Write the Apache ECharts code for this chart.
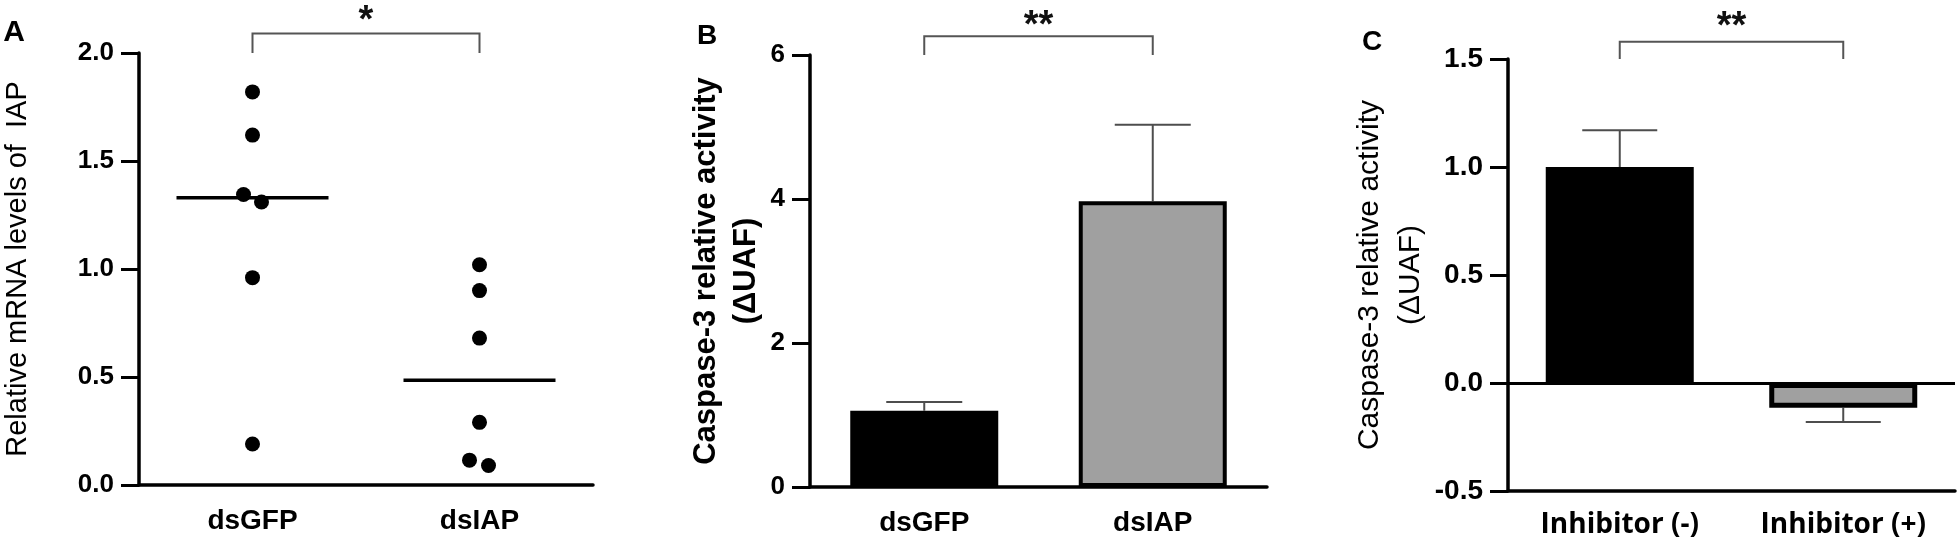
<!DOCTYPE html>
<html><head><meta charset="utf-8">
<script src="https://cdn.jsdelivr.net/npm/echarts@6/dist/echarts.min.js"></script>
<style>html,body{margin:0;padding:0;background:#fff}#c{width:1958px;height:546px}</style>
</head><body><div id="c"></div>
<script>
// ---------- data ----------
const catA = ['dsGFP', 'dsIAP'];
const gfpPoints = [1.82, 1.62, 1.345, 1.31, 0.96, 0.19];
const iapPoints = [1.02, 0.90, 0.68, 0.29, 0.115, 0.09];
const medianA = [1.33, 0.485];
const yTicksA = [0, 0.5, 1.0, 1.5, 2.0];

const catB = ['dsGFP', 'dsIAP'];
const meanB = [1.06, 3.97];
const errB = [0.12, 1.06];
const yTicksB = [0, 2, 4, 6];

const catC = ['Inhibitor (-)', 'Inhibitor (+)'];
const meanC = [1.0, -0.115];
const errC = [0.17, 0.065];
const yTicksC = [-0.5, 0.0, 0.5, 1.0, 1.5];

const sigLabels = ['*', '**', '**'];
const sigTop = [2.09, 6.26, 1.58];
const sigBase = [2.0, 6.0, 1.5];

// ---------- styles (not data) ----------
const jitterGfp = [0, 0, -9, 9, 0, 0];
const jitterIap = [0, 0, 0, 0, -10, 9];
const FONT = '"Liberation Sans", Arial, sans-serif';
const ERR_COLOR = '#4d4d4d';

const chart = echarts.init(document.getElementById('c'), null, {renderer: 'canvas'});

function xAxisCfg(grid, cats, labelFont, labelSize, margin) {
  return {
    type: 'category', gridIndex: grid, data: cats,
    axisLine: {onZero: false, lineStyle: {color: '#000', width: 3.5}},
    axisTick: {alignWithLabel: true, length: 17, lineStyle: {color: '#000', width: 3}},
    axisLabel: {margin: margin, fontSize: labelSize, fontWeight: 'bold', color: '#000', fontFamily: labelFont},
    splitLine: {show: false}
  };
}
function yAxisCfg(grid, ticks, fmt, labelSize, name, nameSize, nameWeight, nameGap, nameLH) {
  return {
    type: 'value', gridIndex: grid,
    min: ticks[0], max: ticks[ticks.length - 1], interval: ticks[1] - ticks[0],
    axisLine: {show: true, lineStyle: {color: '#000', width: 3.5}},
    axisTick: {show: true, length: 18, lineStyle: {color: '#000', width: 3}},
    axisLabel: {margin: 25, fontSize: labelSize, fontWeight: 'bold', color: '#000', fontFamily: FONT, formatter: fmt},
    splitLine: {show: false},
    name: name, nameLocation: 'middle', nameGap: nameGap,
    nameTextStyle: {fontSize: nameSize, fontWeight: nameWeight, color: '#000', fontFamily: FONT, lineHeight: nameLH}
  };
}

function errRender(capW) {
  return function (params, api) {
    const x = api.value(0), m = api.value(1), e = api.value(2);
    const end = m >= 0 ? m + e : m - e;
    const p0 = api.coord([x, m]);
    const p1 = api.coord([x, end]);
    return {type: 'group', children: [
      {type: 'line', shape: {x1: p0[0], y1: p0[1], x2: p1[0], y2: p1[1]}, style: {stroke: ERR_COLOR, lineWidth: 2}},
      {type: 'line', shape: {x1: p1[0] - capW / 2, y1: p1[1], x2: p1[0] + capW / 2, y2: p1[1]}, style: {stroke: ERR_COLOR, lineWidth: 2}}
    ]};
  };
}

function bracketRender(label, lift) {
  return function (params, api) {
    const top = api.value(1), base = api.value(2);
    const a = api.coord([0, top]), b = api.coord([1, top]);
    const a0 = api.coord([0, base]), b0 = api.coord([1, base]);
    return {type: 'group', children: [
      {type: 'polyline', shape: {points: [[a0[0], a0[1]], [a[0], a[1]], [b[0], b[1]], [b0[0], b0[1]]]},
        style: {stroke: '#555', lineWidth: 2, fill: null}},
      {type: 'text', x: (a[0] + b[0]) / 2, y: a[1] - lift,
        style: {text: label, font: 'bold 38px ' + FONT, textAlign: 'center', textVerticalAlign: 'middle', fill: '#111'}}
    ]};
  };
}

const option = {
  animation: false,
  backgroundColor: '#fff',
  grid: [
    {left: 134, top: 53, width: 459, height: 432},
    {left: 810, top: 55, width: 457, height: 432},
    {left: 1508, top: 59, width: 447, height: 432}
  ],
  xAxis: [
    xAxisCfg(0, catA, FONT, 28, 22),
    xAxisCfg(1, catB, FONT, 28, 22),
    xAxisCfg(2, catC, '"Open Sans", sans-serif', 28, 20)
  ],
  yAxis: [
    yAxisCfg(0, yTicksA, v => v.toFixed(1), 26, 'Relative mRNA levels of  IAP', 29, 'normal', 104, 34),
    yAxisCfg(1, yTicksB, v => String(v), 26, 'Caspase-3 relative activity\n(\u0394UAF)', 31, 'bold', 41, 40),
    yAxisCfg(2, yTicksC, v => v.toFixed(1), 28, 'Caspase-3 relative activity\n(\u0394UAF)', 30, 'normal', 74, 41)
  ],
  graphic: [
    {type: 'text', x: 14, y: 33, style: {text: 'A', font: 'bold 30px ' + FONT, textAlign: 'center', textVerticalAlign: 'middle', fill: '#000'}},
    {type: 'text', x: 707, y: 36, style: {text: 'B', font: 'bold 28px ' + FONT, textAlign: 'center', textVerticalAlign: 'middle', fill: '#000'}},
    {type: 'text', x: 1372, y: 42, style: {text: 'C', font: 'bold 28px ' + FONT, textAlign: 'center', textVerticalAlign: 'middle', fill: '#000'}}
  ],
  series: [
    // Panel A points
    {type: 'scatter', xAxisIndex: 0, yAxisIndex: 0, symbolSize: 15, itemStyle: {color: '#000', opacity: 1},
      data: gfpPoints.map((v, i) => ({value: [catA[0], v], symbolOffset: [jitterGfp[i], 0]}))
        .concat(iapPoints.map((v, i) => ({value: [catA[1], v], symbolOffset: [jitterIap[i], 0]})))},
    // Panel A median lines
    {type: 'scatter', xAxisIndex: 0, yAxisIndex: 0, symbol: 'rect', symbolSize: [152, 3.5], itemStyle: {color: '#000', opacity: 1},
      data: medianA.map((v, i) => [catA[i], v])},
    {type: 'custom', xAxisIndex: 0, yAxisIndex: 0, clip: false, renderItem: bracketRender(sigLabels[0], 12),
      data: [[0, sigTop[0], sigBase[0]]]},

    // Panel B
    {type: 'custom', xAxisIndex: 1, yAxisIndex: 1, z: 1, clip: false, renderItem: errRender(76),
      data: meanB.map((m, i) => [i, m, errB[i]])},
    {type: 'bar', xAxisIndex: 1, yAxisIndex: 1, z: 3, barWidth: 148,
      data: meanB.map((v, i) => i === 0
        ? {value: v, itemStyle: {color: '#000'}}
        : {value: v, itemStyle: {color: '#a0a0a0', borderColor: '#000', borderWidth: 4}})},
    {type: 'custom', xAxisIndex: 1, yAxisIndex: 1, clip: false, renderItem: bracketRender(sigLabels[1], 10),
      data: [[0, sigTop[1], sigBase[1]]]},

    // Panel C
    {type: 'custom', xAxisIndex: 2, yAxisIndex: 2, z: 1, clip: false, renderItem: errRender(75),
      data: meanC.map((m, i) => [i, m, errC[i]])},
    {type: 'bar', xAxisIndex: 2, yAxisIndex: 2, z: 3, barWidth: 148,
      data: meanC.map((v, i) => i === 0
        ? {value: v, itemStyle: {color: '#000'}}
        : {value: v, itemStyle: {color: '#a0a0a0', borderColor: '#000', borderWidth: 5}}),
      markLine: {silent: true, symbol: 'none', label: {show: false},
        lineStyle: {color: '#000', width: 3, type: 'solid'}, data: [{yAxis: 0}]}},
    {type: 'custom', xAxisIndex: 2, yAxisIndex: 2, clip: false, renderItem: bracketRender(sigLabels[2], 14),
      data: [[0, sigTop[2], sigBase[2]]]}
  ]
};
chart.setOption(option);
</script>
</body></html>
